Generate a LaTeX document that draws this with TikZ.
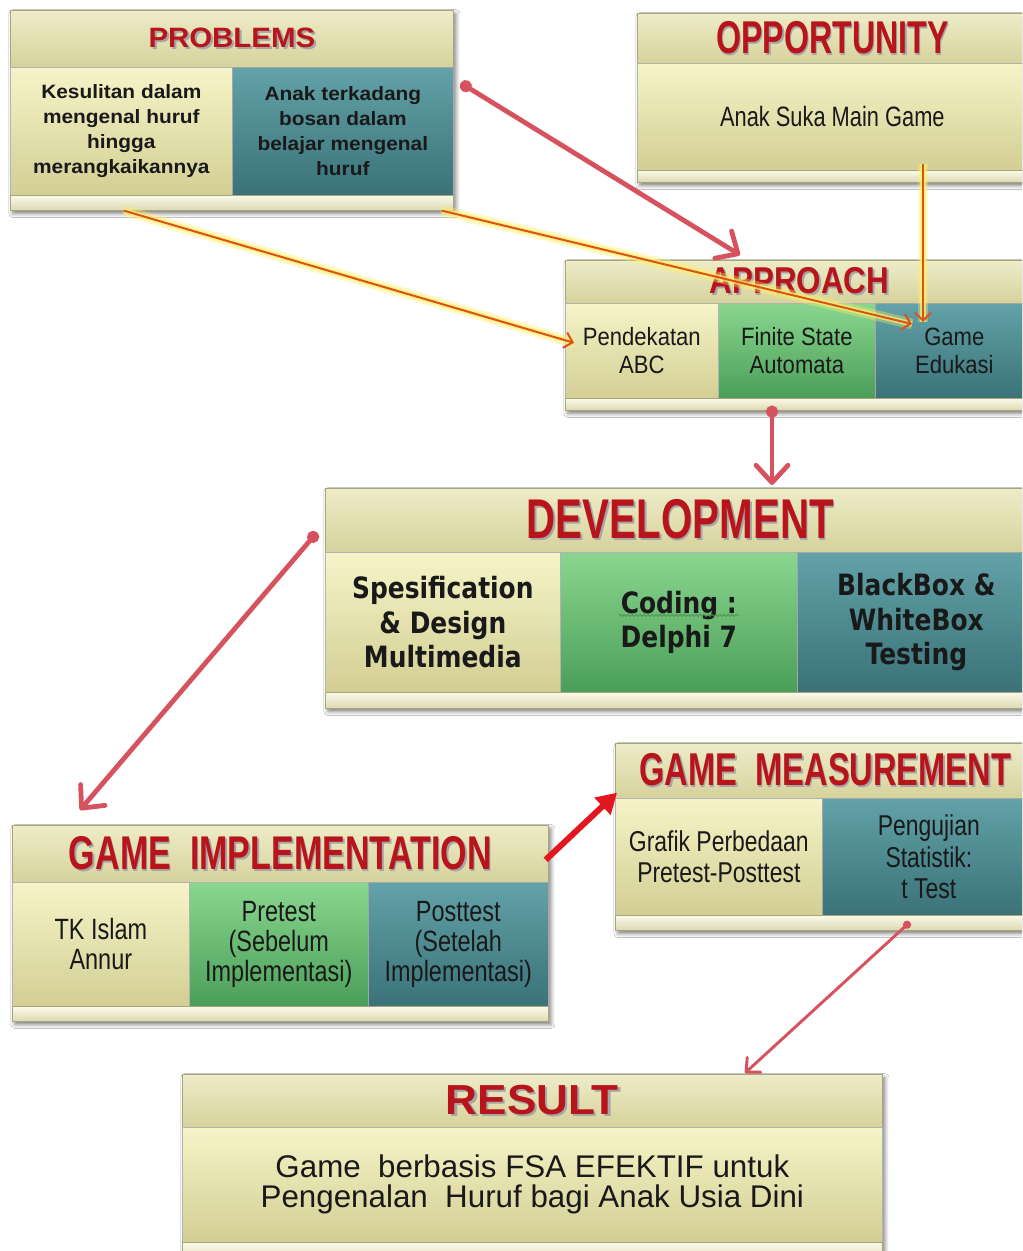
\documentclass[tikz,border=0pt]{standalone}
\usepackage{fontspec}
\setmainfont{Liberation Sans}
\usetikzlibrary{arrows.meta,calc,shadows.blur,decorations.pathmorphing}

\newfontfamily\ttlfont{Liberation Sans}
\newfontfamily\probfont[FakeStretch=1.08]{Liberation Sans}
\newfontfamily\oppfont[FakeStretch=0.78]{Liberation Sans}
\newfontfamily\appfont[FakeStretch=0.88]{Liberation Sans}
\newfontfamily\impfont[FakeStretch=0.80]{Liberation Sans}
\newfontfamily\devfont[FakeStretch=0.85]{DejaVu Sans}

\definecolor{titred}{HTML}{B8141C}
\definecolor{bandtop}{HTML}{EEECC8}
\definecolor{bandbot}{HTML}{D6D29C}
\definecolor{bandedge}{HTML}{A9A57A}
\definecolor{creamtop}{HTML}{F6F4C8}
\definecolor{creambot}{HTML}{D3CE94}
\definecolor{greentop}{HTML}{8AD690}
\definecolor{greenbot}{HTML}{4A9E58}
\definecolor{tealtop}{HTML}{62A2A8}
\definecolor{tealbot}{HTML}{3A7278}
\definecolor{striptop}{HTML}{FBFAEA}
\definecolor{stripbot}{HTML}{DCD9B2}
\definecolor{linkred}{HTML}{D6525E}
\definecolor{hotred}{HTML}{E3151F}
\definecolor{linkorange}{HTML}{D9531C}
\definecolor{glowyellow}{HTML}{FFF06A}

% red heading with a grey drop shadow
\newcommand\ttl[3]{\scalebox{#2}[1]{\fontsize{#1}{#1}\ttlfont\bfseries\rlap{\kern1.6pt\raisebox{-1.6pt}{\color{black!35}#3}}{\color{titred}#3}}}

\newcommand\probtext{\probfont\bfseries\fontsize{14.5}{18.75}\selectfont}
\newcommand\opptext{\oppfont\fontsize{21}{24}\selectfont}
\newcommand\apptext{\appfont\fontsize{18.8}{21}\selectfont}
\newcommand\devtext{\devfont\bfseries\fontsize{22}{26}\selectfont}
\newcommand\imptext{\impfont\fontsize{22}{22.5}\selectfont}
\newcommand\meastext{\impfont\fontsize{21.5}{23.5}\selectfont}
\newcommand\restext{\fontsize{23.5}{22.5}\selectfont}

% a rectangular panel given by its pixel corners
\newcommand\boxcell[7]{\node[#6, minimum width={(#4-#2)*0.75pt}, minimum height={(#5-#3)*0.75pt}] (#1) at (#2,#3) {#7};}

\begin{document}
\begin{tikzpicture}[x=0.75pt, y=-0.75pt,
  panel/.style={rectangle, inner sep=0pt, anchor=north west, align=center, text=black!90},
  frame/.style={panel, fill=stripbot,
    blur shadow={shadow xshift=2pt, shadow yshift=-2.5pt, shadow blur radius=3pt, shadow opacity=50}},
  band/.style={panel, top color=bandtop, bottom color=bandbot, draw=bandedge, line width=0.5pt},
  cellcream/.style={panel, top color=creamtop, bottom color=creambot, draw=black!30, line width=0.5pt},
  cellgreen/.style={panel, top color=greentop, bottom color=greenbot, draw=black!30, line width=0.5pt},
  cellteal/.style={panel, top color=tealtop, bottom color=tealbot, draw=black!35, line width=0.5pt},
  strip/.style={panel, top color=striptop, bottom color=stripbot, draw=bandedge, line width=0.5pt},
  thicklink/.style={draw=linkred, line width=3.6pt,
    {Circle[length=9pt]}-{Straight Barb[length=13pt,width=24pt,round]}},
  boldlink/.style={draw=hotred, line width=4.5pt, -{Triangle[length=15pt,width=17pt]}},
  finelink/.style={draw=linkred, line width=2.2pt,
    {Circle[length=6pt]}-{Straight Barb[length=8pt,width=15pt,round]}},
  glowlink/.style={draw=linkorange, line width=1.5pt, -{Straight Barb[length=6pt,width=12pt]},
    preaction={draw=glowyellow, line width=8pt, opacity=0.35, -},
    preaction={draw=glowyellow, line width=4pt, opacity=0.7, -}},
]
\useasboundingbox (0,0) rectangle (1022,1251);
\clip (0,0) rectangle (1022,1251);
\fill[white] (0,0) rectangle (1022,1251);

% ---------- PROBLEMS ----------
\boxcell{P}{10}{10}{453}{210}{frame}{}
\boxcell{Pt}{10}{10}{453}{67}{band}{\ttl{21}{1.05}{PROBLEMS}}
\boxcell{P1}{10}{67}{232}{195}{cellcream, font=\probtext}{Kesulitan dalam\\mengenal huruf\\hingga\\merangkaikannya}
\boxcell{P2}{232}{67}{453}{195}{cellteal, font=\probtext}{Anak terkadang\\bosan dalam\\belajar mengenal\\huruf}
\boxcell{Pb}{10}{195}{453}{210}{strip}{}

% ---------- OPPORTUNITY ----------
\boxcell{O}{637}{13}{1027}{182}{frame}{}
\boxcell{Ot}{637}{13}{1027}{63}{band}{\ttl{34.5}{0.70}{OPPORTUNITY}}
\boxcell{O1}{637}{63}{1027}{170}{cellcream, font=\opptext}{Anak Suka Main Game}
\boxcell{Ob}{637}{170}{1027}{182}{strip}{}

% ---------- APPROACH ----------
\boxcell{A}{565}{260}{1033}{410}{frame}{}
\boxcell{At}{565}{260}{1033}{303}{band}{\ttl{28}{0.84}{APPROACH}}
\boxcell{A1}{565}{303}{718}{398}{cellcream, font=\apptext}{Pendekatan\\ABC}
\boxcell{A2}{718}{303}{875}{398}{cellgreen, font=\apptext}{Finite State\\Automata}
\boxcell{A3}{875}{303}{1033}{398}{cellteal, font=\apptext}{Game\\Edukasi}
\boxcell{Ab}{565}{398}{1033}{410}{strip}{}

% ---------- DEVELOPMENT ----------
\boxcell{D}{325}{488}{1035}{708}{frame}{}
\boxcell{Dt}{325}{488}{1035}{552}{band}{\raisebox{2pt}{\ttl{42}{0.72}{DEVELOPMENT}}}
\boxcell{D1}{325}{552}{560}{692}{cellcream, font=\devtext}{Spesification\\\&\ Design\\Multimedia}
\boxcell{D2}{560}{552}{797}{692}{cellgreen, font=\devtext}{Coding :\\Delphi 7}
\boxcell{D3}{797}{552}{1035}{692}{cellteal, font=\devtext}{BlackBox \&\\WhiteBox\\Testing}
\boxcell{Db}{325}{692}{1035}{708}{strip}{}
\draw[decorate, decoration={snake, amplitude=0.8pt, segment length=3pt},
      draw=green!40!black!70, line width=0.6pt]
  ($(D2.center)+(-60,-7)$) -- ($(D2.center)+(60,-7)$);

% ---------- GAME MEASUREMENT ----------
\boxcell{M}{615}{743}{1035}{930}{frame}{}
\boxcell{Mt}{615}{743}{1035}{798}{band}{\ttl{34.5}{0.71}{GAME~ MEASUREMENT}}
\boxcell{M1}{615}{798}{822}{915}{cellcream, font=\meastext}{Grafik Perbedaan\\Pretest-Posttest}
\boxcell{M2}{822}{798}{1035}{915}{cellteal, font=\meastext}{Pengujian\\Statistik:\\t Test}
\boxcell{Mb}{615}{915}{1035}{930}{strip}{}

% ---------- GAME IMPLEMENTATION ----------
\boxcell{I}{12}{825}{548}{1021}{frame}{}
\boxcell{It}{12}{825}{548}{882}{band}{\ttl{35.5}{0.72}{GAME~ IMPLEMENTATION}}
\boxcell{I1}{12}{882}{189}{1006}{cellcream, font=\imptext}{TK Islam\\Annur}
\boxcell{I2}{189}{882}{368}{1006}{cellgreen, font=\imptext}{Pretest\\(Sebelum\\Implementasi)}
\boxcell{I3}{368}{882}{548}{1006}{cellteal, font=\imptext}{Posttest\\(Setelah\\Implementasi)}
\boxcell{Ib}{12}{1006}{548}{1021}{strip}{}

% ---------- RESULT ----------
\boxcell{R}{182}{1074}{882}{1262}{frame}{}
\boxcell{Rt}{182}{1074}{882}{1127}{band}{\ttl{31.5}{1.05}{RESULT}}
\boxcell{R1}{182}{1127}{882}{1242}{cellcream, font=\restext}{Game~ berbasis FSA EFEKTIF untuk\\Pengenalan~ Huruf bagi Anak Usia Dini}
\boxcell{Rb}{182}{1242}{882}{1262}{strip}{}

% ---------- connectors ----------
\draw[glowlink] ($(Pb.south west)+(114,0)$) -- ($(A1.west)+(9,-8)$);
\draw[glowlink] ($(Pb.south west)+(432,0)$) -- ($(A3.north west)+(37,21)$);
\draw[glowlink] ($(O1.south west)+(286,-7)$) -- ($(A3.north west)+(48,19)$);

\draw[thicklink] ($(P2.north east)+(7,16)$) -- ($(At.north west)+(175,-5)$);
\draw[thicklink] ($(A2.south west)+(54,7)$) -- ($(Dt.north west)+(447,-3)$);
\draw[thicklink] ($(Dt.west)+(-8,12)$) -- ($(It.north west)+(68,-15)$);
\draw[boldlink] ($(It.east)+(-3,6)$) -- ($(Mt.south west)+(2,-6)$);
\draw[finelink] ($(Mb.north west)+(295,7)$) -- ($(Rt.north west)+(563,-1)$);
\end{tikzpicture}
\end{document}
